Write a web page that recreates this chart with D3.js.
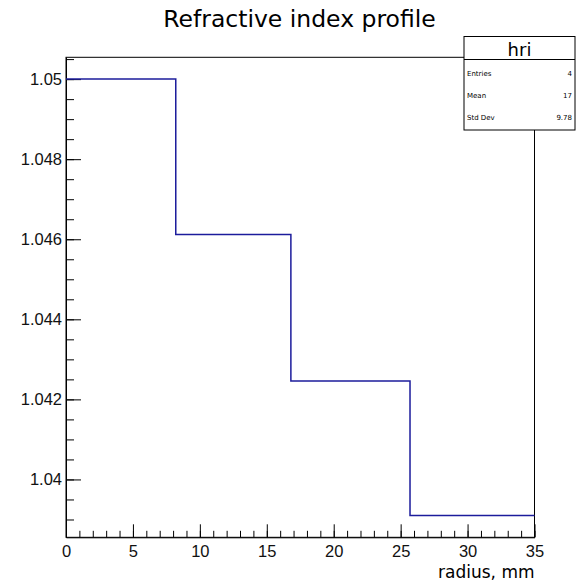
<!DOCTYPE html>
<html>
<head>
<meta charset="utf-8">
<script src="https://cdn.jsdelivr.net/npm/d3@7"></script>
<style>
  body { margin: 0; background: #fff; }
  svg { display: block; font-family: "DejaVu Sans", sans-serif; }
</style>
</head>
<body>
<div id="chart"></div>
<script>
// histogram "hri": bin edges (mm) and contents
var binEdges = [0, 8.2, 16.8, 25.7, 35];
var binValues = [1.05, 1.04612, 1.04246, 1.0391];

var xTicks = [0, 5, 10, 15, 20, 25, 30, 35];
var yTicks = [1.04, 1.042, 1.044, 1.046, 1.048, 1.05];
var yTickLabels = ["1.04", "1.042", "1.044", "1.046", "1.048", "1.05"];

var statNames = ["Entries", "Mean", "Std Dev"];
var statValues = ["4", "17", "9.78"];

var title = "Refractive index profile";
var histName = "hri";
var xTitle = "radius, mm";

var W = 576, H = 586;
var frame = {left: 66, right: 534.5, top: 57.3, bottom: 537.3};

var svg = d3.select("#chart").append("svg")
  .attr("width", W)
  .attr("height", H);

var x = d3.scaleLinear()
  .domain([0, 35])
  .range([frame.left, frame.right]);

// ROOT adds 5% of the range above and below
var yMin = d3.min(binValues), yMax = d3.max(binValues);
var pad = (yMax - yMin) * 0.05;
var y = d3.scaleLinear()
  .domain([yMin - pad, yMax + pad])
  .range([frame.bottom, frame.top]);

// frame
svg.append("rect")
  .attr("x", frame.left)
  .attr("y", frame.top)
  .attr("width", frame.right - frame.left)
  .attr("height", frame.bottom - frame.top)
  .attr("fill", "none")
  .attr("stroke", "#000")
  .attr("stroke-width", 1);

// minor ticks
var xMinor = d3.range(0, 36, 1);
var yMinor = d3.range(1.039, 1.0506, 0.0005);

svg.append("g")
  .attr("transform", "translate(0," + frame.bottom + ")")
  .call(d3.axisBottom(x).tickValues(xMinor).tickSize(-6.5).tickFormat(""))
  .call(g => g.select(".domain").remove());

svg.append("g")
  .attr("transform", "translate(" + frame.left + ",0)")
  .call(d3.axisLeft(y).tickValues(yMinor).tickSize(-8).tickFormat(""))
  .call(g => g.select(".domain").remove());

// major ticks + labels
var xAxis = svg.append("g")
  .attr("transform", "translate(0," + frame.bottom + ")")
  .call(d3.axisBottom(x).tickValues(xTicks).tickSize(-13).tickPadding(8.3).tickSizeOuter(0));
xAxis.selectAll("text").style("font-size", "16.5px").attr("fill", "#111");

var yAxis = svg.append("g")
  .attr("transform", "translate(" + frame.left + ",0)")
  .call(d3.axisLeft(y).tickValues(yTicks).tickSize(-15).tickPadding(4).tickSizeOuter(0)
    .tickFormat(function(d, i) { return yTickLabels[i]; }));
yAxis.selectAll("text").style("font-size", "16.5px").attr("fill", "#111");

svg.selectAll(".tick line").attr("stroke", "#000");
svg.selectAll(".domain").attr("stroke", "#000");

// histogram outline
var pts = binValues.map(function(v, i) { return [binEdges[i], v]; });
pts.push([binEdges[binEdges.length - 1], binValues[binValues.length - 1]]);

svg.append("path")
  .datum(pts)
  .attr("fill", "none")
  .attr("stroke", "#1c1c9c")
  .attr("stroke-width", 1.5)
  .attr("d", d3.line()
    .x(function(d) { return x(d[0]); })
    .y(function(d) { return y(d[1]); })
    .curve(d3.curveStepAfter));

// title
svg.append("text")
  .attr("x", 299.5)
  .attr("y", 27)
  .attr("text-anchor", "middle")
  .style("font-size", "23.5px")
  .text(title);

// x axis title
svg.append("text")
  .attr("x", frame.right)
  .attr("y", 578)
  .attr("text-anchor", "end")
  .style("font-size", "17px")
  .text(xTitle);

// stats box
var box = {x: 464, y: 36.5, w: 111, h: 93.5, head: 23};
var stats = svg.append("g");
stats.append("rect")
  .attr("x", box.x).attr("y", box.y)
  .attr("width", box.w).attr("height", box.h)
  .attr("fill", "#fff").attr("stroke", "#000");
stats.append("line")
  .attr("x1", box.x).attr("x2", box.x + box.w)
  .attr("y1", box.y + box.head).attr("y2", box.y + box.head)
  .attr("stroke", "#000");
stats.append("text")
  .attr("x", box.x + box.w / 2)
  .attr("y", box.y + 19)
  .attr("text-anchor", "middle")
  .style("font-size", "18px")
  .text(histName);

var rowY = [76, 98, 120];
statNames.forEach(function(n, i) {
  stats.append("text")
    .attr("x", box.x + 3)
    .attr("y", rowY[i])
    .style("font-size", "7px")
    .text(n);
  stats.append("text")
    .attr("x", box.x + box.w - 3)
    .attr("y", rowY[i])
    .attr("text-anchor", "end")
    .style("font-size", "7px")
    .text(statValues[i]);
});
</script>
</body>
</html>
